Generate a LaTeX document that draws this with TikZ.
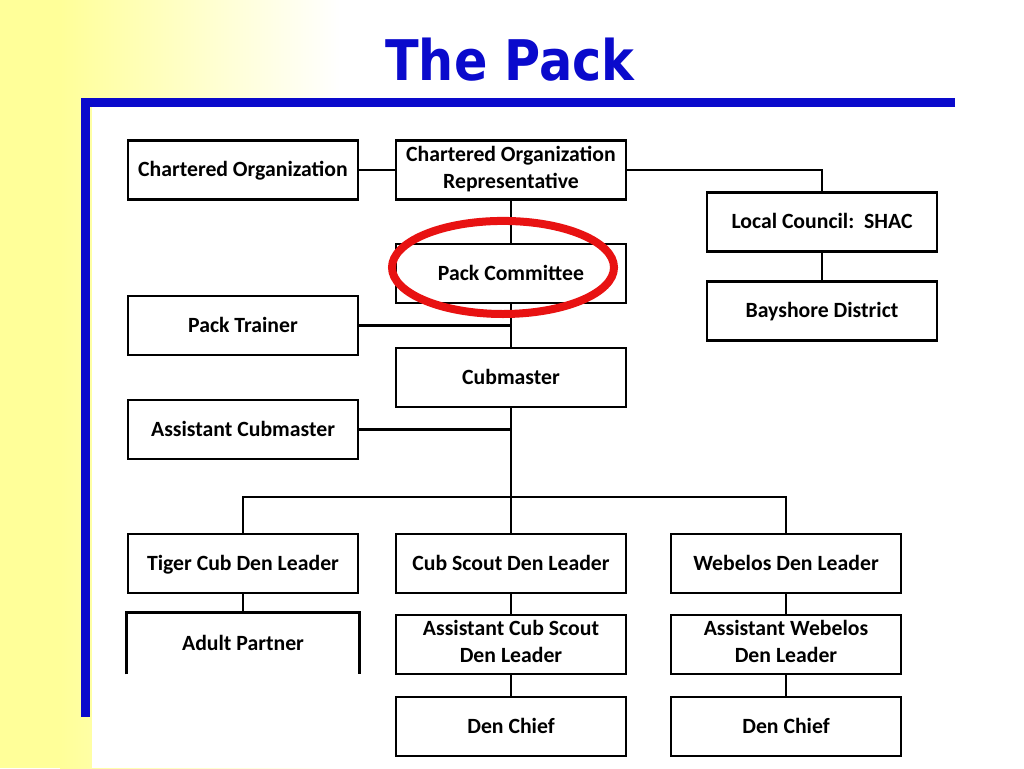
\documentclass[tikz,border=0pt]{standalone}
\usepackage{fontspec}
\setmainfont{Carlito}
\newfontfamily\titlefont{DejaVu Sans}
\usepackage{tikz}
\usetikzlibrary{positioning}

\definecolor{slideyellow}{RGB}{255,255,153}
\definecolor{slideblue}{RGB}{10,10,204}
\definecolor{ringred}{RGB}{232,18,18}
\newcommand\boxstrut{\rule[-0.26em]{0pt}{1.16em}}

\tikzset{
  box/.style={draw, line width=2.2pt, fill=white, minimum width=172.5pt,
    minimum height=44.25pt, align=center, inner sep=1pt,
    font=\bfseries\fontsize{16.3}{20}\selectfont,
    execute at begin node=\boxstrut, execute at end node=\boxstrut},
  link/.style={line width=1.6pt},
  every edge/.style={draw, link},
}

\begin{document}
\begin{tikzpicture}[node distance=78pt, on grid]
  \useasboundingbox (0,0) rectangle (768pt,-576pt);
  % slide background
  \fill[slideyellow] (0,0) rectangle (45pt,-576pt);
  \shade[left color=slideyellow, right color=white] (45pt,0) rectangle (255pt,-576pt);
  \fill[white] (69pt,-73.5pt) rectangle (768pt,-576pt);
  \draw[slideblue, line width=6.75pt] (716.25pt,-76.9pt) -- (64.1pt,-76.9pt) -- (64.1pt,-537.75pt);
  \node[font=\titlefont\bfseries\fontsize{42}{46}\selectfont, text=slideblue, anchor=base]
    (title) at (382.5pt,-60pt) {\scalebox{0.88}[1]{The Pack}};

  \node[box] (chart_org) at (182.25pt,-127.5pt) {Chartered Organization};
  \node[box] (chart_rep) [right=201pt of chart_org] {Chartered Organization\\Representative};
    \node[box] (council) [below right=39pt and 233.25pt of chart_rep] {Local Council:\ \ SHAC};
    \node[box] (district) [below=66.75pt of council] {Bayshore District};
  \node[box] (committee) [below=77.6pt of chart_rep] {Pack Committee};
  \node[box] (cubmaster) [below=of committee] {Cubmaster};
  \node[box] (trainer) [below left=39pt and 201pt of committee] {Pack Trainer};
  \node[box] (asst_cm) [below left=39pt and 201pt of cubmaster] {Assistant Cubmaster};
  \coordinate[below=89.6pt of cubmaster] (bus);
  \node[box] (cub) [below=139.5pt of cubmaster] {Cub Scout Den Leader};
    \node[box] (asst_cub) [below=60.75pt of cub] {Assistant Cub Scout\\Den Leader};
    \node[box] (chief_1) [below=61.5pt of asst_cub] {Den Chief};
  \node[box] (tiger) [left=201pt of cub] {Tiger Cub Den Leader};
    \node[box, draw=none] (partner) [below=60pt of tiger] {Adult Partner};
  \node[box] (webelos) [right=206.25pt of cub] {Webelos Den Leader};
    \node[box] (asst_web) [below=60.75pt of webelos] {Assistant Webelos\\Den Leader};
    \node[box] (chief_2) [below=61.5pt of asst_web] {Den Chief};

  \path (chart_org) edge (chart_rep)
        (chart_rep) edge (committee)
        (committee) edge (cubmaster)
        (council) edge (district)
        (trainer) edge (trainer -| cubmaster)
        (asst_cm) edge (asst_cm -| cubmaster)
        (cubmaster) edge (cub);
  \draw[link] (chart_rep) -| (council);
  \draw[link] (tiger) |- (bus) -| (webelos);
  \path (tiger) edge (partner)
        (cub) edge (asst_cub)
        (asst_cub) edge (chief_1)
        (webelos) edge (asst_web)
        (asst_web) edge (chief_2);
  % partner box is cut off at the bottom
  \draw[line width=2.2pt] (partner.south west) -- (partner.north west)
    -- (partner.north east) -- (partner.south east);

  \draw[ringred, line width=6pt] (377.25pt,-200.6pt) ellipse [x radius=83.25pt, y radius=34.9pt];
\end{tikzpicture}
\end{document}
